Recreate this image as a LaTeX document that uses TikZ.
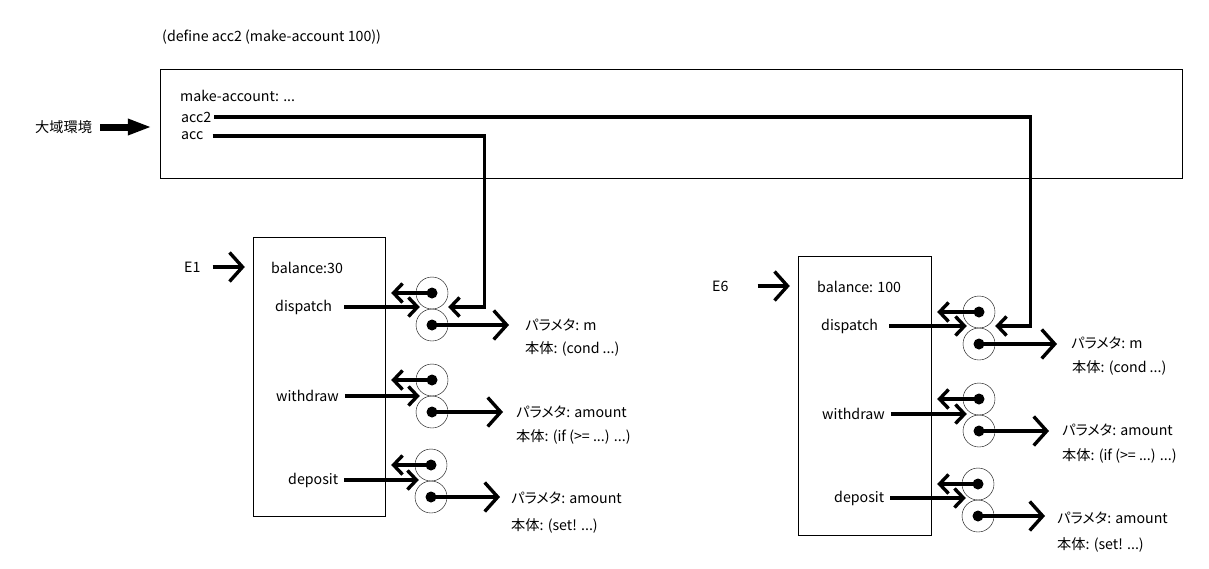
\documentclass[tikz,border=0pt]{standalone}
\usepackage{fontspec}
\setmainfont{Noto Sans CJK JP}[RawFeature=+palt]
\usetikzlibrary{positioning,arrows.meta}

\begin{document}
\begin{tikzpicture}[x=1pt, y=-1pt,
		t/.style={anchor=west, inner sep=0pt, font=\fontsize{14.2}{16}\selectfont},
		frame/.style={draw, thin, inner sep=0pt},
		cell/.style={circle, draw, thin, minimum size=32pt, inner sep=0pt},
		ptr/.style={line width=3.4pt, -{Straight Barb[length=9pt,width=19pt]}},
		bigptr/.style={line width=3.4pt, -{Straight Barb[length=13pt,width=29pt]}}]
		\useasboundingbox (0,0) rectangle (1209,568);

		\node[t] (def) at (162,37) {(define acc2 (make-account 100))};
		\node[frame, minimum width=1022pt, minimum height=109pt] (glob) at (671,123.5) {};
		\node[t] (mk) at (180,96) {make-account: ...};
		\node[t] (acc2) at (181,117) {acc2};
		\node[t] (acc) at (181,136) {acc};
		\node[t] (gl) at (35,127) {大域環境};

		\node[frame, minimum width=132pt, minimum height=279pt] (box1) at (319,376.5) {};
		\node[t] (e1) at (184,267) {E1};
		\node[t] (bal1) at (271,268) {balance:30};
		\node[t] (dsp1) at (275,307) {dispatch};
		\node[t] (wd1) at (276,396) {withdraw};
		\node[t] (dep1) at (288,480) {deposit};
		\node[cell] (c1a) at (432,293) {};
		\node[cell] (c1b) at (432,325) {};
		\node[cell] (c1c) at (432,380) {};
		\node[cell] (c1d) at (432,412) {};
		\node[cell] (c1e) at (431,465) {};
		\node[cell] (c1f) at (431,497) {};
		\node[t] (p1) at (525,325) {パラメタ: m};
		\node[t] (b1) at (525,349) {本体: (cond ...)};
		\node[t] (p2) at (516,412) {パラメタ: amount};
		\node[t] (b2) at (516,437) {本体: (if (>= ...) ...)};
		\node[t] (p3) at (511,498) {パラメタ: amount};
		\node[t] (b3) at (511,526) {本体: (set! ...)};

		\node[frame, minimum width=133pt, minimum height=279pt] (box6) at (864.5,395.5) {};
		\node[t] (e6) at (712,286) {E6};
		\node[t] (bal6) at (817,287) {balance: 100};
		\node[t] (dsp6) at (821,326) {dispatch};
		\node[t] (wd6) at (822,414) {withdraw};
		\node[t] (dep6) at (834,498) {deposit};
		\node[cell] (c6a) at (979,312) {};
		\node[cell] (c6b) at (979,344) {};
		\node[cell] (c6c) at (979,399) {};
		\node[cell] (c6d) at (979,431) {};
		\node[cell] (c6e) at (978,484) {};
		\node[cell] (c6f) at (978,516) {};
		\node[t] (p4) at (1071,343) {パラメタ: m};
		\node[t] (b4) at (1072,368) {本体: (cond ...)};
		\node[t] (p5) at (1062,430) {パラメタ: amount};
		\node[t] (b5) at (1062,456) {本体: (if (>= ...) ...)};
		\node[t] (p6) at (1057,518) {パラメタ: amount};
		\node[t] (b6) at (1057,545) {本体: (set! ...)};

		\foreach \c in {c1a,c1b,c1c,c1d,c1e,c1f,c6a,c6b,c6c,c6d,c6e,c6f}
			\fill (\c.center) circle (5.5pt);

		\draw[line width=7pt, -{Triangle[length=24pt,width=15pt]}] ([xshift=8pt]gl.east) -- ([xshift=-8pt]glob.west |- gl.east);
		\draw[ptr] ([xshift=9pt]acc.east) -| ([xshift=36pt]c1a.east |- dsp1.east) -- (c1a.east |- dsp1.east);
		\draw[ptr] ([xshift=3pt]acc2.east) -| ([xshift=35pt]c6a.east |- dsp6.east) -- (c6a.east |- dsp6.east);

		\draw[bigptr] ([xshift=12pt]e1.east) -- ([xshift=-8pt]e1.east -| box1.west);
		\draw[ptr] ([xshift=12pt]dsp1.east) -- ([xshift=4pt]dsp1.east -| c1a.west);
		\draw[ptr] ([xshift=6pt]wd1.east) -- ([xshift=4pt]wd1.east -| c1c.west);
		\draw[ptr] ([xshift=6pt]dep1.east) -- ([xshift=4pt]dep1.east -| c1e.west);
		\draw[ptr] (c1a.center) -- ([xshift=6pt]c1a.center -| box1.east);
		\draw[ptr] (c1c.center) -- ([xshift=6pt]c1c.center -| box1.east);
		\draw[ptr] (c1e.center) -- ([xshift=6pt]c1e.center -| box1.east);
		\draw[bigptr] (c1b.center) -- ([xshift=-16pt]p1.west |- c1b.center);
		\draw[bigptr] (c1d.center) -- ([xshift=-13pt]p2.west |- c1d.center);
		\draw[bigptr] (c1f.center) -- ([xshift=-11pt]p3.west |- c1f.center);

		\draw[bigptr] ([xshift=29pt]e6.east) -- ([xshift=-8pt]e6.east -| box6.west);
		\draw[ptr] ([xshift=11pt]dsp6.east) -- ([xshift=4pt]dsp6.east -| c6a.west);
		\draw[ptr] ([xshift=6pt]wd6.east) -- ([xshift=4pt]wd6.east -| c6c.west);
		\draw[ptr] ([xshift=6pt]dep6.east) -- ([xshift=4pt]dep6.east -| c6e.west);
		\draw[ptr] (c6a.center) -- ([xshift=6pt]c6a.center -| box6.east);
		\draw[ptr] (c6c.center) -- ([xshift=6pt]c6c.center -| box6.east);
		\draw[ptr] (c6e.center) -- ([xshift=6pt]c6e.center -| box6.east);
		\draw[bigptr] (c6b.center) -- ([xshift=-14pt]p4.west |- c6b.center);
		\draw[bigptr] (c6d.center) -- ([xshift=-13pt]p5.west |- c6d.center);
		\draw[bigptr] (c6f.center) -- ([xshift=-12pt]p6.west |- c6f.center);
\end{tikzpicture}
\end{document}
